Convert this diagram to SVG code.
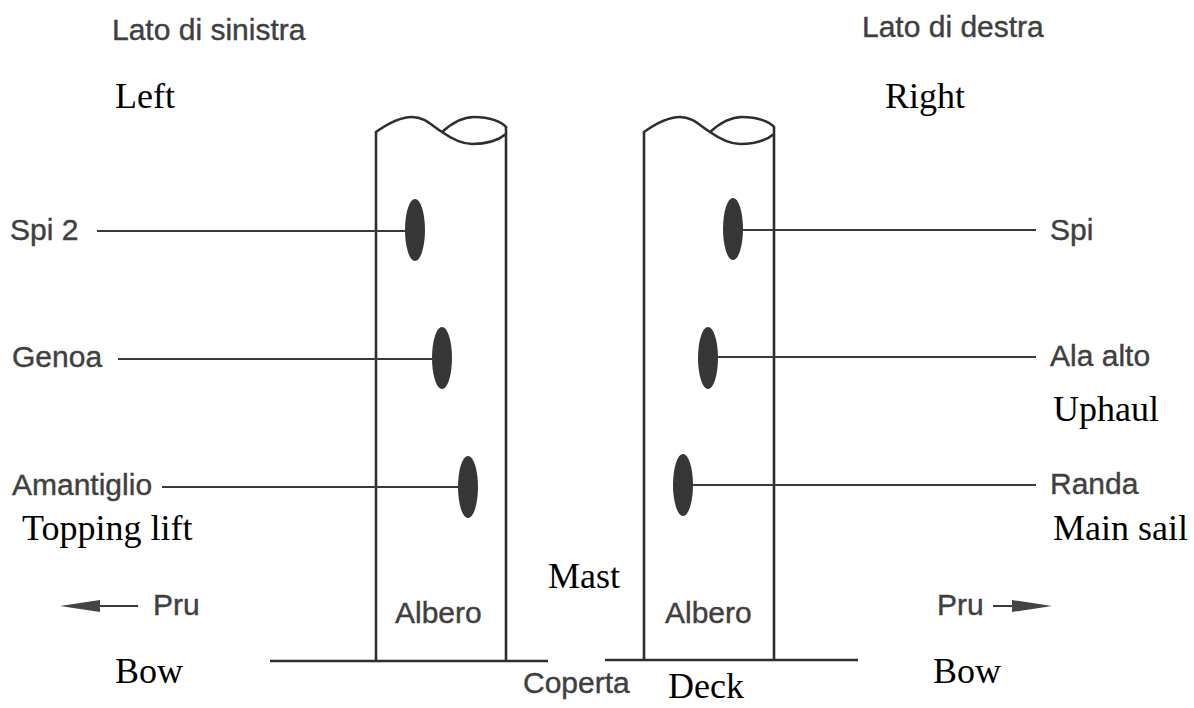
<svg xmlns="http://www.w3.org/2000/svg" width="1194" height="708" viewBox="0 0 1194 708">
  <defs>
    <style>
      .it { font-family: "Liberation Sans", Arial, sans-serif; font-size: 30px; fill: #404040; stroke: #404040; stroke-width: 0.4; }
      .en { font-family: "Liberation Serif", "Times New Roman", serif; font-size: 36px; fill: #000; }
      .mast { fill: none; stroke: #2e2e2e; stroke-width: 2.6; }
      .lead { fill: none; stroke: #3a3a3a; stroke-width: 2; }
      .sheave { fill: #363636; }
    </style>
    <!-- tapered arrowhead, tip pointing along the path direction -->
    <marker id="head" viewBox="0 0 40 14" refX="0" refY="7" markerWidth="40" markerHeight="14" markerUnits="userSpaceOnUse" orient="auto">
      <path d="M0,1 L40,7 L0,13 Z" fill="#444"/>
    </marker>
  </defs>
  <rect width="1194" height="708" fill="#fff"/>

  <!-- side headings -->
  <g id="side-left">
    <text class="it" x="112" y="40">Lato di sinistra</text>
    <text class="en" x="115" y="108">Left</text>
  </g>
  <g id="side-right">
    <text class="it" x="862" y="37">Lato di destra</text>
    <text class="en" x="885" y="108">Right</text>
  </g>

  <!-- port mast -->
  <g id="mast-left">
    <path class="mast" d="M376,661 L376,132 C390,122 402,117 412,117 C425,117 432,126 442,132 C452,139 462,144 472,144 C488,144 500,139 506,134 M442,132 C452,123 462,117 474,117 C490,117 502,122 506,127 L506,661"/>
    <ellipse class="sheave" cx="415" cy="230" rx="10" ry="31"/>
    <ellipse class="sheave" cx="442" cy="358" rx="10" ry="31"/>
    <ellipse class="sheave" cx="468" cy="487" rx="10" ry="31"/>
    <text class="it" x="395" y="623">Albero</text>
  </g>

  <!-- starboard mast -->
  <g id="mast-right">
    <path class="mast" d="M644,661 L644,132 C658,122 670,117 680,117 C693,117 700,126 710,132 C720,139 730,144 740,144 C756,144 768,139 774,134 M710,132 C720,123 730,117 742,117 C758,117 770,122 774,127 L774,661"/>
    <ellipse class="sheave" cx="733" cy="229" rx="10" ry="31"/>
    <ellipse class="sheave" cx="708" cy="358" rx="10" ry="31"/>
    <ellipse class="sheave" cx="683" cy="485" rx="10" ry="31"/>
    <text class="it" x="665" y="623">Albero</text>
  </g>

  <g id="mast-label">
    <text class="en" x="548" y="588">Mast</text>
  </g>

  <!-- deck -->
  <g id="deck">
    <path class="mast" d="M270,661 L548,661 M605,660 L858,660"/>
    <text class="it" x="523" y="693">Coperta</text>
    <text class="en" x="668" y="698">Deck</text>
  </g>

  <!-- halyard labels, port -->
  <g id="spi2"><text class="it" x="10" y="240">Spi 2</text></g>
  <g id="genoa"><text class="it" x="12" y="367">Genoa</text></g>
  <g id="amantiglio">
    <text class="it" x="12" y="495">Amantiglio</text>
    <text class="en" x="22" y="540">Topping lift</text>
  </g>

  <!-- halyard labels, starboard -->
  <g id="spi"><text class="it" x="1050" y="240">Spi</text></g>
  <g id="ala-alto">
    <text class="it" x="1050" y="366">Ala alto</text>
    <text class="en" x="1053" y="421">Uphaul</text>
  </g>
  <g id="randa">
    <text class="it" x="1050" y="494">Randa</text>
    <text class="en" x="1053" y="540">Main sail</text>
  </g>

  <!-- bow direction -->
  <g id="bow-left">
    <text class="it" x="153" y="615">Pru</text>
    <text class="en" x="115" y="683">Bow</text>
  </g>
  <g id="bow-right">
    <text class="it" x="937" y="615">Pru</text>
    <text class="en" x="933" y="683">Bow</text>
  </g>

  <!-- leader lines and arrows -->
  <g id="connectors">
    <path class="lead" d="M97,231 L408,231"/>
    <path class="lead" d="M118,359 L436,359"/>
    <path class="lead" d="M162,487 L462,487"/>
    <path class="lead" d="M733,230 L1036,230"/>
    <path class="lead" d="M708,357 L1036,357"/>
    <path class="lead" d="M683,485 L1036,485"/>
    <path class="lead" d="M138,606 L100,606" marker-end="url(#head)"/>
    <path class="lead" d="M993,606 L1012,606" marker-end="url(#head)"/>
  </g>
</svg>
